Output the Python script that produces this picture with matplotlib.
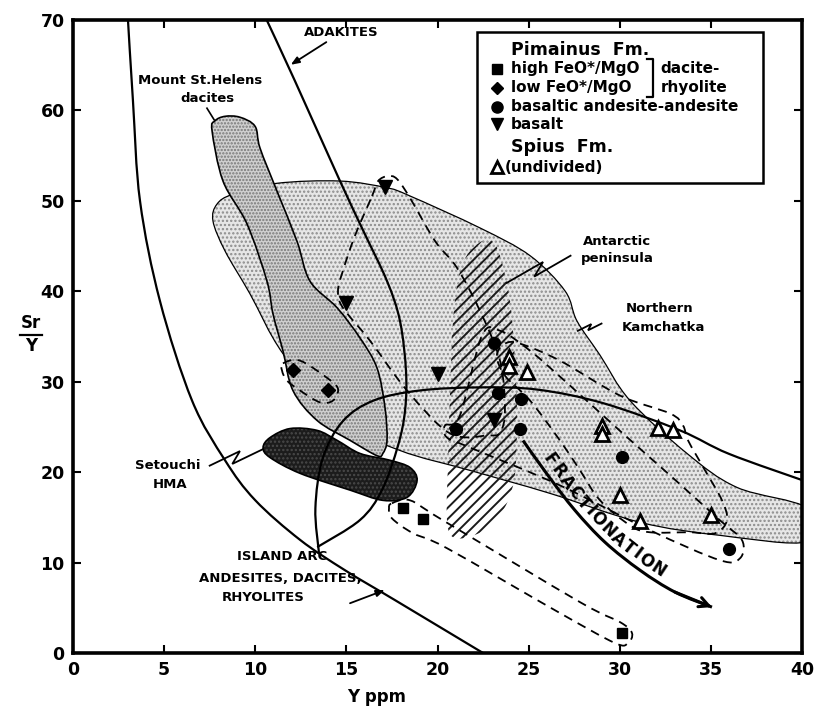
import numpy as np
import matplotlib
matplotlib.use("Agg")
import matplotlib.pyplot as plt
from matplotlib.path import Path
from matplotlib.patches import PathPatch, Rectangle

plt.rcParams['font.family'] = ['DejaVu Sans']
plt.rcParams['font.weight'] = 'bold'
plt.rcParams['hatch.linewidth'] = 1.1

# ---- Pimainus Fm. samples: Y (ppm) and Sr/Y ----
high_feo_y = [18.1, 19.2, 30.1]
high_feo_sry = [16.0, 14.8, 2.2]
low_feo_y = [12.05, 14.0]
low_feo_sry = [31.3, 29.1]
bas_andesite_y = [21.0, 23.1, 23.3, 24.6, 24.5, 30.1, 36.0]
bas_andesite_sry = [24.8, 34.2, 28.7, 28.1, 24.7, 21.7, 11.5]
basalt_y = [17.1, 15.0, 20.0, 23.1]
basalt_sry = [51.5, 38.7, 30.8, 25.8]

# ---- Spius Fm. (undivided) ----
spius_y = [23.9, 23.9, 24.9, 29.05, 29.05, 32.1, 32.9, 30.0, 31.1, 35.0]
spius_sry = [32.7, 31.75, 31.1, 25.1, 24.2, 24.9, 24.6, 17.5, 14.6, 15.3]

# ---- reference fields (Y ppm, Sr/Y) ----
kamchatka = [(7.90, 49.6), (8.78, 50.7), (11.19, 51.9), (14.65, 52.15), (17.23, 51.4),
             (18.49, 50.5), (22.33, 46.97), (25.08, 43.9), (27.0, 40.0), (27.65, 36.7),
             (28.92, 32.9), (30.56, 27.9), (33.69, 22.05), (36.43, 18.3), (40.3, 16.0),
             (40.3, 12.3), (35.5, 13.0), (31.11, 14.44), (26.17, 17.64), (21.78, 20.18),
             (17.94, 22.38), (14.65, 25.69), (11.52, 33.08), (9.71, 39.69), (8.34, 44.43),
             (7.68, 47.74)]
st_helens = [(8.34, 59.3), (9.16, 59.2), (9.99, 58.2), (10.26, 55.8), (11.19, 51.05),
             (12.29, 45.5), (13.0, 41.1), (14.49, 38.15), (15.75, 34.8), (16.68, 31.5),
             (17.12, 27.1), (17.23, 23.5), (17.0, 22.05), (16.68, 21.8), (15.2, 23.5),
             (13.39, 25.7), (12.07, 29.0), (11.52, 33.4), (10.97, 37.5), (10.64, 41.1),
             (9.55, 47.4), (8.23, 52.15), (7.63, 57.7), (7.79, 58.8)]
setouchi = [(10.81, 23.8), (11.91, 24.8), (13.39, 24.6), (14.49, 23.5), (15.75, 22.05),
            (17.39, 21.3), (18.49, 20.5), (18.88, 19.07), (18.33, 17.2), (17.0, 16.87),
            (15.2, 18.0), (12.46, 19.85), (10.81, 21.6), (10.43, 22.7)]
antarctic = [(21.78, 44.4), (22.44, 45.5), (22.99, 45.5), (23.43, 43.9), (23.98, 38.9),
             (24.25, 32.3), (24.36, 25.7), (24.2, 19.07), (23.43, 15.2), (22.33, 13.3),
             (20.96, 12.7), (20.52, 14.66), (20.58, 21.3), (20.69, 29.0), (20.85, 36.7),
             (21.12, 41.1), (21.4, 43.1)]

# ---- boundary curves ----
adakite_left = [(3.0, 70.5), (3.29, 61.0), (3.68, 49.9), (4.77, 38.9), (6.53, 27.9),
                (8.34, 21.3), (9.99, 16.9), (12.46, 12.5), (14.92, 9.15), (17.67, 5.84),
                (22.5, 0.0)]
adakite_right = [(10.5, 70.5), (12.18, 63.2), (14.65, 52.15), (15.94, 46.6), (17.23, 41.1),
                 (17.94, 36.7), (18.27, 31.2), (18.22, 26.8), (17.83, 22.9), (16.95, 18.0),
                 (15.75, 14.7), (13.4, 11.7)]
arc_upper = [(13.5, 11.0), (13.3, 16.0), (13.7, 21.5), (14.8, 25.6), (16.5, 27.9),
             (19.0, 29.0), (22.3, 29.35), (25.5, 29.1), (29.1, 27.6), (33.3, 24.6),
             (36.0, 22.0), (40.3, 18.9)]
fractionation = [(24.69, 23.48), (26.06, 19.63), (27.54, 15.77), (29.19, 12.24),
                 (31.11, 9.15), (33.03, 6.73), (35.06, 5.07)]

# ---- sample envelopes ----
env_basalt = [(16.41, 50.5), (16.74, 52.15), (17.28, 52.7), (17.78, 52.37), (18.49, 50.28),
              (19.86, 45.54), (21.07, 42.56), (22.33, 37.8), (23.43, 32.3), (23.7, 26.8),
              (23.43, 24.37), (22.77, 24.04), (20.69, 24.26), (18.33, 29.0), (16.3, 34.5),
              (14.81, 38.15), (14.54, 40.0), (14.81, 42.23), (15.47, 46.1)]
env_andesite = [(20.41, 25.14), (21.23, 26.24), (22.44, 35.06), (23.43, 35.61), (25.08, 33.4),
                (27.27, 29.55), (30.29, 24.04), (32.76, 19.63), (35.5, 14.66), (36.71, 12.46),
                (36.6, 10.47), (35.5, 10.25), (31.66, 13.56), (26.72, 18.52), (21.78, 22.71),
                (20.52, 23.81)]
env_spius = [(23.26, 32.86), (23.7, 34.18), (24.53, 34.18), (26.72, 32.3), (30.01, 28.45),
             (32.76, 26.46), (33.47, 25.14), (33.75, 23.48), (34.68, 20.18), (35.61, 16.87),
             (35.88, 14.66), (35.23, 13.23), (33.85, 13.34), (31.66, 13.34), (30.56, 14.11),
             (28.92, 16.87), (27.82, 20.18), (26.72, 23.48), (25.08, 27.89), (23.7, 30.65)]
env_low_feo = [(11.52, 32.0), (12.46, 32.3), (13.94, 30.4), (14.54, 29.2), (14.27, 27.9),
               (13.55, 27.7), (12.46, 29.0), (11.74, 30.1), (11.47, 31.2)]
env_high_feo = [(17.5, 16.54), (18.49, 16.87), (20.3, 14.66), (27.82, 5.62), (30.01, 3.42),
                (30.67, 2.21), (30.45, 1.1), (29.74, 1.1), (26.72, 4.41), (20.52, 11.58),
                (18.66, 13.23), (17.5, 14.88), (17.34, 16.0)]


def smooth_path(pts, closed=True):
    """Catmull-Rom spline through the points, as cubic Bezier segments."""
    P = np.asarray(pts, float)
    n = len(P)
    verts = [P[0]]
    codes = [Path.MOVETO]
    segs = n if closed else n - 1
    for i in range(segs):
        p1 = P[i]
        p2 = P[(i + 1) % n]
        p0 = P[(i - 1) % n] if (closed or i > 0) else P[i]
        p3 = P[(i + 2) % n] if (closed or i + 2 < n) else P[i + 1]
        verts += [p1 + (p2 - p0) / 6.0, p2 - (p3 - p1) / 6.0, p2]
        codes += [Path.CURVE4] * 3
    if closed:
        verts.append(P[0])
        codes.append(Path.CLOSEPOLY)
    return Path(verts, codes)


fig = plt.figure(figsize=(8.14, 7.12), dpi=100)
ax = fig.add_axes([73 / 814, 59 / 712, 729 / 814, 633.5 / 712])
ax.set_xlim(0, 40)
ax.set_ylim(0, 70)


def field(pts, face, hatch=None, hatch_color='black', hatch_lw=None, edge='black',
          lw=1.0, z=1):
    if face is not None:
        ax.add_patch(PathPatch(smooth_path(pts), facecolor=face, edgecolor='none',
                               lw=0, zorder=z))
    if hatch:
        with plt.rc_context({'hatch.linewidth': hatch_lw or 1.1}):
            hp = PathPatch(smooth_path(pts), facecolor='none', edgecolor=hatch_color,
                           hatch=hatch, lw=0, zorder=z + 0.1)
            if hatch_lw and hasattr(hp, 'set_hatch_linewidth'):
                hp.set_hatch_linewidth(hatch_lw)
            ax.add_patch(hp)
    if edge:
        ax.add_patch(PathPatch(smooth_path(pts), facecolor='none', edgecolor=edge,
                               lw=lw, zorder=z + 0.2))


field(kamchatka, '#e6e6e6', hatch='....', hatch_color='#8c8c8c', lw=0.9, z=1)
field(st_helens, '#d0d0d0', hatch='.....', hatch_color='#777777', lw=1.2, z=2)
field(antarctic, None, hatch='///', hatch_color='#1a1a1a', hatch_lw=1.4, edge=None, z=3)
field(setouchi, '#1c1c1c', hatch='....', hatch_color='#4a4a4a', lw=1.2, z=4)

# boundary curves
for curve in (adakite_left, adakite_right, arc_upper):
    ax.add_patch(PathPatch(smooth_path(curve, closed=False), facecolor='none',
                           edgecolor='black', lw=1.6, zorder=5))

# sample envelopes
for env in (env_basalt, env_andesite, env_spius, env_low_feo, env_high_feo):
    ax.add_patch(PathPatch(smooth_path(env), facecolor='none', edgecolor='black',
                           lw=1.3, linestyle=(0, (5, 3.5)), zorder=6))

# fractionation trend arrow
ax.add_patch(PathPatch(smooth_path(fractionation, closed=False),
                       facecolor='none', edgecolor='black', lw=2.2, zorder=6))
ax.annotate('', xy=fractionation[-1], xytext=fractionation[-2],
            arrowprops=dict(arrowstyle='->,head_length=0.7,head_width=0.35',
                            lw=2.2, color='black', shrinkA=0, shrinkB=0), zorder=6)


def text_along(text, pts, start_px, offset_px, fontsize, tracking=1.0):
    """Place text letter by letter along a curve, on its upper side."""
    path = smooth_path(pts, closed=False)
    chunks = [seg(np.linspace(0, 1, 40)) for seg, code in path.iter_bezier()
              if code != Path.MOVETO]
    disp = ax.transData.transform(np.vstack(chunks))
    step = np.hypot(*np.diff(disp, axis=0).T)
    disp = np.vstack([disp[:1], disp[1:][step > 1e-6]])
    s = np.concatenate([[0], np.cumsum(np.hypot(*np.diff(disp, axis=0).T))])
    renderer = fig.canvas.get_renderer()
    widths = []
    for ch in text:
        t = ax.text(0, 0, ch, fontsize=fontsize)
        widths.append(t.get_window_extent(renderer).width)
        t.remove()
    pos = start_px
    for ch, w in zip(text, widths):
        c = pos + w / 2
        x = np.interp(c, s, disp[:, 0])
        y = np.interp(c, s, disp[:, 1])
        tx = np.interp(c + 3, s, disp[:, 0]) - np.interp(c - 3, s, disp[:, 0])
        ty = np.interp(c + 3, s, disp[:, 1]) - np.interp(c - 3, s, disp[:, 1])
        L = np.hypot(tx, ty)
        nx, ny = -ty / L, tx / L
        px, py = x + nx * offset_px, y + ny * offset_px
        dx, dy = ax.transData.inverted().transform((px, py))
        ax.text(dx, dy, ch, fontsize=fontsize, rotation=np.degrees(np.arctan2(ty, tx)),
                rotation_mode='anchor', ha='center', va='baseline', zorder=7)
        pos += w + tracking


text_along('FRACTIONATION', fractionation, 26, 6, 12, tracking=1.5)

# samples
ax.plot(high_feo_y, high_feo_sry, 's', color='black', ms=7, zorder=10, ls='none')
ax.plot(low_feo_y, low_feo_sry, 'D', color='black', ms=7, zorder=10, ls='none')
ax.plot(bas_andesite_y, bas_andesite_sry, 'o', color='black', ms=8.5, zorder=10, ls='none')
ax.plot(basalt_y, basalt_sry, 'v', color='black', ms=9.5, zorder=10, ls='none')
ax.plot(spius_y, spius_sry, '^', mfc='white', mec='black', mew=2.0, ms=9.5,
        zorder=10, ls='none')


def zigzag(start, end, jog=5.0):
    """Lightning-style leader line between two data points."""
    a = ax.transData.transform(start)
    b = ax.transData.transform(end)
    d = b - a
    u = d / np.hypot(*d)
    nrm = np.array([-u[1], u[0]])
    pts = np.array([a, a + 0.6 * d + nrm * jog, a + 0.4 * d - nrm * jog, b])
    pts = ax.transData.inverted().transform(pts)
    ax.plot(pts[:, 0], pts[:, 1], color='black', lw=1.3, zorder=8, solid_joinstyle='miter')


def pointer(tail, head):
    ax.annotate('', xy=head, xytext=tail,
                arrowprops=dict(arrowstyle='-|>,head_length=0.5,head_width=0.2',
                                lw=1.3, color='black', shrinkA=0, shrinkB=0), zorder=8)


label_kw = dict(fontsize=9.5, ha='center', va='center', zorder=9)
ax.text(14.7, 68.6, 'ADAKITES', **label_kw)
pointer((13.9, 67.5), (11.95, 65.0))
ax.text(6.97, 63.3, 'Mount St.Helens', **label_kw)
ax.text(7.4, 61.3, 'dacites', **label_kw)
ax.plot([7.35, 7.75], [60.2, 58.9], color='black', lw=1.2, zorder=8)
ax.text(29.85, 45.5, 'Antarctic', **label_kw)
ax.text(29.85, 43.55, 'peninsula', **label_kw)
zigzag((27.3, 43.9), (23.8, 40.9))
ax.text(32.2, 38.1, 'Northern', **label_kw)
ax.text(32.4, 36.0, 'Kamchatka', **label_kw)
zigzag((29.0, 36.4), (27.7, 35.6), jog=2.5)
ax.text(5.2, 20.7, 'Setouchi', **label_kw)
ax.text(5.3, 18.6, 'HMA', **label_kw)
zigzag((7.5, 20.7), (10.4, 22.5))
ax.text(11.45, 10.7, 'ISLAND ARC', **label_kw)
ax.text(11.35, 8.27, 'ANDESITES, DACITES,', **label_kw)
ax.text(10.45, 6.17, 'RHYOLITES', **label_kw)
pointer((15.2, 5.5), (17.1, 6.95))

# legend box
T = ax.transAxes
ax.add_patch(Rectangle((0.554, 0.742), 0.3925, 0.238, transform=T, facecolor='white',
                       edgecolor='black', lw=1.8, zorder=20))
leg_kw = dict(transform=T, fontsize=11, ha='left', va='center', zorder=21)
mx = 0.5816
ax.text(0.601, 0.952, 'Pimainus  Fm.', **{**leg_kw, 'fontsize': 12.5})
ax.plot([mx], [0.922], 's', color='black', ms=6.5, transform=T, zorder=21)
ax.text(0.601, 0.922, 'high FeO*/MgO', **leg_kw)
ax.plot([mx], [0.892], 'D', color='black', ms=6.5, transform=T, zorder=21)
ax.text(0.601, 0.892, 'low FeO*/MgO', **leg_kw)
ax.plot([0.787, 0.796, 0.796, 0.787], [0.937, 0.937, 0.877, 0.877], color='black',
        lw=1.6, transform=T, zorder=21)
ax.text(0.806, 0.922, 'dacite-', **leg_kw)
ax.text(0.806, 0.892, 'rhyolite', **leg_kw)
ax.plot([mx], [0.862], 'o', color='black', ms=8, transform=T, zorder=21)
ax.text(0.601, 0.862, 'basaltic andesite-andesite', **leg_kw)
ax.plot([mx], [0.835], 'v', color='black', ms=9, transform=T, zorder=21)
ax.text(0.601, 0.835, 'basalt', **leg_kw)
ax.text(0.601, 0.799, 'Spius  Fm.', **{**leg_kw, 'fontsize': 12.5})
ax.plot([mx], [0.767], '^', mfc='white', mec='black', mew=2, ms=9, transform=T, zorder=21)
ax.text(0.592, 0.767, '(undivided)', **leg_kw)

# axes styling
ax.set_xticks(range(0, 41, 5))
ax.set_yticks(range(0, 71, 10))
ax.tick_params(direction='in', length=6, width=1.5, top=True, right=True,
               labelsize=12.5, pad=6)
for s in ax.spines.values():
    s.set_linewidth(2.6)
    s.set_zorder(30)

fig.text(377 / 814, 1 - 697 / 712, 'Y ppm', fontsize=12, ha='center', va='center')
fig.text(31 / 814, 1 - 323 / 712, 'Sr', fontsize=12, ha='center', va='center')
fig.text(31 / 814, 1 - 346 / 712, 'Y', fontsize=12, ha='center', va='center')
fig.add_artist(plt.Line2D([20 / 814, 42 / 814], [1 - 335 / 712, 1 - 335 / 712],
                          color='black', lw=1.6))

fig.savefig('out.png', dpi=100, facecolor='white')
